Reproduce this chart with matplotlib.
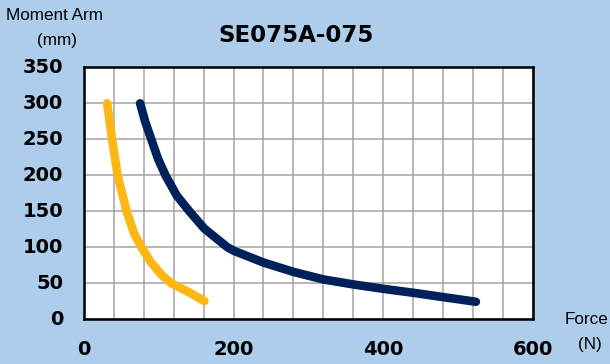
import matplotlib
matplotlib.use("Agg")
import matplotlib.pyplot as plt
from matplotlib import font_manager

# ── Datos ───────────────────────────────────────────────────────────────────
yellow_force = [31, 37.5, 45, 57, 67.5, 77, 89, 104, 117, 139, 161]
yellow_arm = [300, 250, 200, 150, 118, 100, 80, 61.5, 50, 38.4, 25.5]

navy_force = [75, 82, 90, 99, 109, 124, 141, 161, 192, 201, 240, 280, 320,
              360, 400, 440, 480, 524]
navy_arm = [300, 274, 250, 223, 200, 172, 150, 126, 100, 95, 79, 66, 55.5,
            48.6, 42.5, 37, 31, 24.5]

x_ticks = [0, 200, 400, 600]
y_ticks = [0, 50, 100, 150, 200, 250, 300, 350]

BG = "#ADCDEB"
YELLOW = "#FDB714"
NAVY = "#00215A"
GRID = "#A3A3A3"

names = {f.name for f in font_manager.fontManager.ttflist}
NARROW = "Liberation Sans Narrow" if "Liberation Sans Narrow" in names else "Liberation Sans"

plt.rcParams["font.family"] = ["DejaVu Sans"]

fig = plt.figure(figsize=(6.10, 3.64), dpi=100, facecolor=BG)
ax = fig.add_axes([0.1377, 0.1225, 0.7356, 0.6925])
ax.set_facecolor("white")

ax.plot(yellow_force, yellow_arm, color=YELLOW, lw=6.2,
        solid_capstyle="round", solid_joinstyle="round", zorder=3)
ax.plot(navy_force, navy_arm, color=NAVY, lw=6.2,
        solid_capstyle="round", solid_joinstyle="round", zorder=3)

ax.set_xlim(0, 600)
ax.set_ylim(0, 350)
ax.set_xticks(range(0, 601, 40))
ax.set_yticks(y_ticks)
ax.grid(True, color=GRID, lw=1.1)
ax.set_axisbelow(True)
ax.tick_params(length=0, labelbottom=False, labelleft=False)

for s in ax.spines.values():
    s.set_color("black")
    s.set_linewidth(1.8)

for v in x_ticks:
    ax.annotate(str(v), (v, 0), xycoords="data", textcoords="offset points",
                xytext=(0, -22), ha="center", va="center",
                fontsize=14, fontweight="bold", annotation_clip=False)
for v in y_ticks:
    ax.annotate(str(v), (0, v), xycoords="data", textcoords="offset points",
                xytext=(-15, 0), ha="right", va="center",
                fontsize=14, fontweight="bold", annotation_clip=False)

fig.text(296 / 610, 1 - 35 / 364, "SE075A-075", ha="center", va="center",
         fontsize=16.5, fontweight="bold")
fig.text(54 / 610, 1 - 15 / 364, "Moment Arm", ha="center", va="center",
         fontsize=12.3, family=NARROW)
fig.text(57 / 610, 1 - 40 / 364, "(mm)", ha="center", va="center",
         fontsize=12.3, family=NARROW)
fig.text(587 / 610, 1 - 320 / 364, "Force", ha="center", va="center",
         fontsize=12.3, family=NARROW)
fig.text(590 / 610, 1 - 344 / 364, "(N)", ha="center", va="center",
         fontsize=12.3, family=NARROW)

fig.savefig("out.png", dpi=100, facecolor=BG)
